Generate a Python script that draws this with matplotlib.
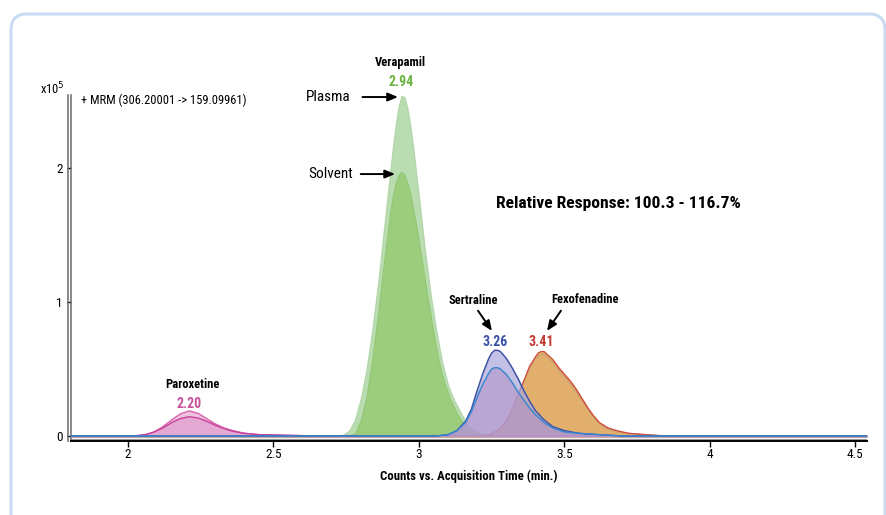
import matplotlib
matplotlib.use("Agg")
import matplotlib.pyplot as plt
from matplotlib.patches import FancyBboxPatch
from matplotlib.transforms import IdentityTransform
from matplotlib import font_manager

# ---- data (counts in units of 1e5) ----
x_min, x_max = 1.804, 4.540

paroxetine_t = [1.80, 2.02, 2.06, 2.09, 2.12, 2.15, 2.18, 2.21, 2.24, 2.27, 2.30,
                2.33, 2.36, 2.40, 2.45, 2.55, 2.65, 4.54]
paroxetine_plasma = [0, 0, 0.01, 0.03, 0.07, 0.12, 0.165, 0.187, 0.17, 0.13, 0.09,
                     0.06, 0.04, 0.02, 0.01, 0.005, 0, 0]
paroxetine_solvent = [0, 0, 0.01, 0.03, 0.06, 0.10, 0.13, 0.144, 0.135, 0.11, 0.08,
                      0.055, 0.035, 0.02, 0.01, 0.005, 0, 0]

verapamil_plasma_t = [1.80, 2.70, 2.74, 2.76, 2.78, 2.80, 2.82, 2.84, 2.86, 2.88, 2.90,
                      2.91, 2.92, 2.93, 2.94, 2.95, 2.96, 2.97, 2.98, 3.00, 3.02,
                      3.04, 3.06, 3.08, 3.10, 3.12, 3.14, 3.16, 3.18, 3.20, 3.23,
                      3.26, 4.54]
verapamil_plasma = [0, 0, 0.01, 0.04, 0.12, 0.28, 0.50, 0.80, 1.15, 1.55, 1.95,
                    2.15, 2.32, 2.46, 2.54, 2.53, 2.45, 2.32, 2.16, 1.78, 1.40,
                    1.06, 0.78, 0.55, 0.38, 0.27, 0.19, 0.11, 0.06, 0.03, 0.01,
                    0, 0]

verapamil_solvent_t = [1.80, 2.76, 2.78, 2.80, 2.82, 2.84, 2.86, 2.88, 2.90, 2.91,
                       2.92, 2.93, 2.94, 2.95, 2.96, 2.97, 2.99, 3.01, 3.03, 3.05,
                       3.07, 3.09, 3.11, 3.13, 3.15, 3.17, 3.20, 3.24, 4.54]
verapamil_solvent = [0, 0, 0.02, 0.12, 0.30, 0.58, 0.92, 1.30, 1.65, 1.79,
                     1.89, 1.95, 1.97, 1.95, 1.89, 1.81, 1.58, 1.31, 1.03, 0.77,
                     0.54, 0.38, 0.26, 0.17, 0.10, 0.05, 0.02, 0, 0]

sertraline_t = [1.80, 3.06, 3.10, 3.13, 3.16, 3.18, 3.20, 3.22, 3.24, 3.25, 3.26,
                3.27, 3.28, 3.30, 3.32, 3.34, 3.36, 3.38, 3.40, 3.43, 3.46,
                3.50, 3.55, 3.62, 3.70, 4.54]
sertraline_plasma = [0, 0, 0.01, 0.04, 0.11, 0.20, 0.34, 0.47, 0.58, 0.62, 0.64,
                     0.64, 0.63, 0.58, 0.51, 0.43, 0.34, 0.26, 0.19, 0.12, 0.07,
                     0.04, 0.02, 0.01, 0, 0]
sertraline_solvent = [0, 0, 0.01, 0.04, 0.10, 0.18, 0.29, 0.39, 0.47, 0.50, 0.51,
                      0.51, 0.50, 0.46, 0.40, 0.33, 0.27, 0.21, 0.16, 0.10, 0.06,
                      0.03, 0.02, 0.01, 0, 0]

fexofenadine_t = [1.80, 3.20, 3.24, 3.27, 3.30, 3.32, 3.34, 3.36, 3.38, 3.40, 3.41,
                  3.42, 3.43, 3.44, 3.46, 3.48, 3.50, 3.52, 3.54, 3.56, 3.58,
                  3.60, 3.62, 3.65, 3.68, 3.72, 3.78, 3.85, 4.54]
fexofenadine_plasma = [0, 0, 0.01, 0.04, 0.11, 0.20, 0.31, 0.41, 0.52, 0.59, 0.62,
                       0.63, 0.63, 0.61, 0.57, 0.51, 0.46, 0.41, 0.35, 0.28, 0.21,
                       0.15, 0.10, 0.06, 0.04, 0.02, 0.01, 0, 0]
fexofenadine_solvent = [0, 0, 0.01, 0.04, 0.10, 0.19, 0.29, 0.40, 0.50, 0.57, 0.60,
                        0.61, 0.61, 0.59, 0.55, 0.49, 0.44, 0.39, 0.33, 0.27, 0.20,
                        0.14, 0.09, 0.05, 0.03, 0.02, 0.01, 0, 0]

x_ticks = [2, 2.5, 3, 3.5, 4, 4.5]
x_tick_labels = ["2", "2.5", "3", "3.5", "4", "4.5"]
y_ticks = [0, 1, 2]

# ---- fonts: a condensed sans like the original ----
names = {f.name for f in font_manager.fontManager.ttflist}
narrow = "DejaVu Sans"
for cand in ["Roboto Condensed", "IBM Plex Sans Condensed", "Fira Sans Condensed",
             "Asap Condensed", "Archivo Narrow"]:
    if cand in names:
        narrow = cand
        break
plt.rcParams["font.family"] = [narrow, "DejaVu Sans"]

fig = plt.figure(figsize=(8.87, 5.15), dpi=100)
ax = fig.add_axes([0.080, 0.1443, 0.8975, 0.6712])

# rounded frame around the panel (pixel coords)
frame = FancyBboxPatch((11, -30), 874, 531, boxstyle="round,pad=0,rounding_size=16",
                       transform=IdentityTransform(), fill=False,
                       edgecolor="#c9dbf2", linewidth=2.2)
fig.patches.append(frame)

# peaks
ax.fill_between(paroxetine_t, paroxetine_plasma, color="#eec3e0", zorder=2)
ax.fill_between(paroxetine_t, paroxetine_solvent, color="#e3a9d2", zorder=2)
ax.plot(paroxetine_t, paroxetine_plasma, color="#d864ae", lw=1.0, zorder=3)
ax.plot(paroxetine_t, paroxetine_solvent, color="#c8409a", lw=1.0, zorder=3)

ax.fill_between(verapamil_plasma_t, verapamil_plasma, color="#badcb1",
                edgecolor="#b0d6a6", lw=0.8, zorder=2)
ax.fill_between(verapamil_solvent_t, verapamil_solvent, color="#9ccd7c",
                edgecolor="#92c873", lw=0.8, zorder=2)

ax.fill_between(fexofenadine_t, fexofenadine_plasma, color="#e8b570", zorder=2)
ax.fill_between(fexofenadine_t, fexofenadine_solvent, color="#e2b06c", zorder=2)
ax.plot(fexofenadine_t, fexofenadine_solvent, color="#c9a27c", lw=0.9, zorder=3)
ax.plot(fexofenadine_t, fexofenadine_plasma, color="#cf4a3a", lw=0.9, zorder=3)

ax.fill_between(sertraline_t, sertraline_plasma, color="#aaa8dc", alpha=0.7, zorder=4)
ax.fill_between(sertraline_t, sertraline_solvent, color="#b490c8", alpha=0.55, zorder=4)
ax.plot(sertraline_t, sertraline_plasma, color="#3b4ea6", lw=1.0, zorder=5)
ax.plot(sertraline_t, sertraline_solvent, color="#3589cf", lw=1.0, zorder=5)

# baselines just under the traces
ax.axhline(-0.008, color="#c9a08e", lw=1.6, zorder=1)
ax.axhline(-0.022, color="#9a9a9a", lw=0.8, zorder=1)

ax.set_xlim(x_min, x_max)
ax.set_ylim(-0.035, 2.545)
ax.set_xticks(x_ticks)
ax.set_xticklabels(x_tick_labels)
ax.set_yticks(y_ticks)
ax.tick_params(axis="x", direction="out", length=4, width=1, pad=1.5, labelsize=9.5)
ax.tick_params(axis="y", direction="out", length=3, width=1, pad=3, labelsize=9.5)
for side in ("top", "right"):
    ax.spines[side].set_visible(False)
ax.spines["bottom"].set_linewidth(1.4)
ax.spines["left"].set_color("#6a6a6a")
ax.spines["left"].set_linewidth(1.1)
# second line of the double y axis
ax.plot([x_min - 0.009, x_min - 0.009], [-0.035, 2.545], color="#6a6a6a",
        lw=1.1, clip_on=False, zorder=6)

ax.set_xlabel("Counts vs. Acquisition Time (min.)", fontsize=9.2,
              fontweight="bold", labelpad=6)

fig.text(40 / 887, 1 - 89 / 515, r"x10$^5$", fontsize=9, va="center", ha="left")
ax.text(0.012, 0.986, "+ MRM (306.20001 -> 159.09961)", transform=ax.transAxes,
        fontsize=9, va="center", ha="left")

bold = dict(fontweight="bold", ha="center", va="center", clip_on=False)
arrow = dict(arrowstyle="-|>,head_length=0.6,head_width=0.25", color="black", lw=1.4,
             shrinkA=0, shrinkB=0)

ax.text(2.938, 2.79, "Verapamil", fontsize=9, **bold)
ax.text(2.938, 2.64, "2.94", fontsize=10, color="#6ab43e", **bold)
ax.text(2.765, 2.53, "Plasma", fontsize=11, ha="right", va="center", clip_on=False)
ax.annotate("", xy=(2.928, 2.53), xytext=(2.806, 2.53), arrowprops=arrow,
            annotation_clip=False)
ax.text(2.772, 1.955, "Solvent", fontsize=11, ha="right", va="center")
ax.annotate("", xy=(2.918, 1.955), xytext=(2.800, 1.955), arrowprops=arrow)

ax.text(3.684, 1.739, "Relative Response: 100.3 - 116.7%", fontsize=12.6, **bold)

ax.text(3.186, 1.015, "Sertraline", fontsize=9, **bold)
ax.annotate("", xy=(3.251, 0.784), xytext=(3.203, 0.935), arrowprops=arrow)
ax.text(3.262, 0.70, "3.26", fontsize=10, color="#3a4fa8", **bold)

ax.text(3.570, 1.022, "Fexofenadine", fontsize=9, **bold)
ax.annotate("", xy=(3.440, 0.784), xytext=(3.488, 0.935), arrowprops=arrow)
ax.text(3.419, 0.70, "3.41", fontsize=10, color="#c23a30", **bold)

ax.text(2.220, 0.381, "Paroxetine", fontsize=9, **bold)
ax.text(2.210, 0.239, "2.20", fontsize=10, color="#c8509a", **bold)

fig.savefig("out.png", dpi=100)
